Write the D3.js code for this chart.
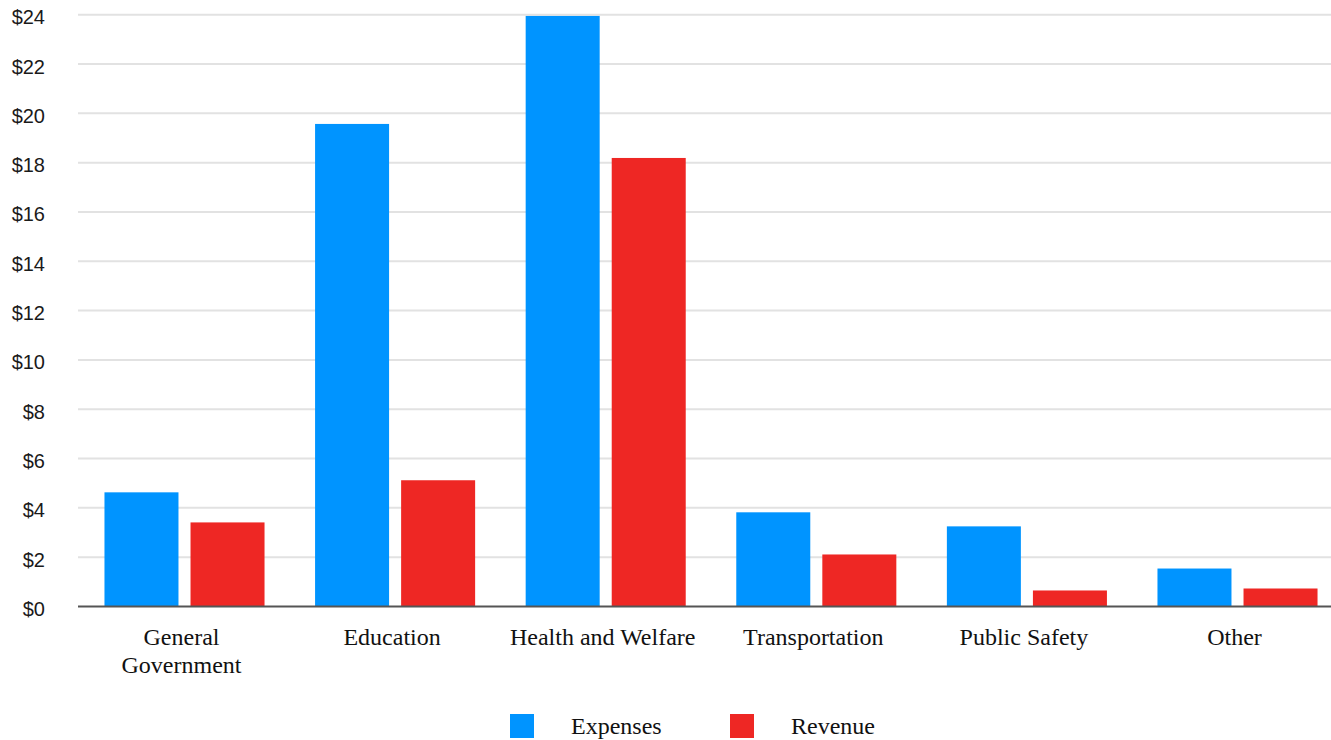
<!DOCTYPE html>
<html><head><meta charset="utf-8">
<script src="https://cdn.jsdelivr.net/npm/d3@7"></script>
<style>body{margin:0;background:#fff}svg{display:block}</style>
</head><body>
<svg id="c" width="1331" height="740"></svg>
<script>
const categories = [["General","Government"],["Education"],["Health and Welfare"],["Transportation"],["Public Safety"],["Other"]];
const seriesNames = ["Expenses","Revenue"];
const expenses = [4.63, 19.57, 23.95, 3.82, 3.25, 1.54];
const revenue = [3.41, 5.12, 18.19, 2.11, 0.65, 0.73];
const yTicks = [0,2,4,6,8,10,12,14,16,18,20,22,24];
const colors = ["#0094ff","#ee2724"];

const svg = d3.select("#c");
const keys = categories.map((c,i)=>i);
const x = d3.scaleBand().domain(keys).range([79.2, 1342.8]).paddingInner(0.24).paddingOuter(0.12);
const xs = d3.scaleBand().domain(seriesNames).range([0, x.bandwidth()]).paddingInner(0.14);
const y = d3.scaleLinear().domain([0,24]).range([606.5, 14.7]);

// gridlines
svg.append("g").selectAll("line").data(yTicks.filter(t=>t>0)).join("line")
  .attr("x1",78).attr("x2",1331).attr("y1",d=>y(d)).attr("y2",d=>y(d))
  .attr("stroke","#e2e2e2").attr("stroke-width",2);

// y labels
svg.append("g").selectAll("text").data(yTicks).join("text")
  .attr("x",45).attr("y",d=>y(d)+2.5).attr("dy","0.35em").attr("text-anchor","end")
  .attr("font-family","'Liberation Sans', Arial, sans-serif").attr("font-size",20).attr("fill","#1a1a1a")
  .text(d=>"$"+d);

// bars
const data = keys.map(i=>({i, vals:[expenses[i], revenue[i]]}));
const g = svg.append("g").selectAll("g").data(data).join("g").attr("transform",d=>`translate(${x(d.i)},0)`);
g.selectAll("rect").data(d=>d.vals.map((v,k)=>({k,v}))).join("rect")
  .attr("x",d=>xs(seriesNames[d.k])).attr("width",xs.bandwidth())
  .attr("y",d=>y(d.v)).attr("height",d=>y(0)-y(d.v)).attr("fill",d=>colors[d.k]);

// baseline
svg.append("line").attr("x1",78).attr("x2",1331).attr("y1",y(0)).attr("y2",y(0))
  .attr("stroke","#555").attr("stroke-width",2);

// x labels
const xl = svg.append("g").selectAll("text").data(keys).join("text")
  .attr("text-anchor","middle").attr("font-family","'Liberation Serif', 'Times New Roman', serif")
  .attr("font-size",24).attr("fill","#111")
  .attr("transform",d=>`translate(${x(d)+x.bandwidth()/2-3},645)`);
xl.selectAll("tspan").data(d=>categories[d]).join("tspan")
  .attr("x",0).attr("y",(d,j)=>j*28).text(d=>d);

// legend
const legX = [510, 730];
const lg = svg.append("g").selectAll("g").data(seriesNames).join("g")
  .attr("transform",(d,k)=>`translate(${legX[k]},714)`);
lg.append("rect").attr("width",24).attr("height",24).attr("fill",(d,k)=>colors[k]);
lg.append("text").attr("x",61).attr("y",20).attr("font-family","'Liberation Serif', 'Times New Roman', serif")
  .attr("font-size",24).attr("fill","#111").text(d=>d);
</script>
</body></html>
